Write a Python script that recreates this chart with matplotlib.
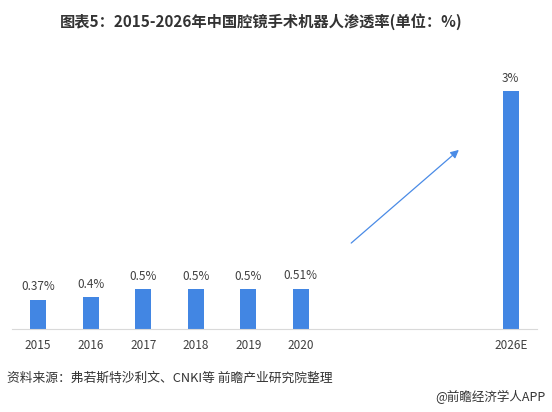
# -*- coding: utf-8 -*-
import matplotlib as mpl
mpl.use('Agg')
import matplotlib.pyplot as plt

plt.rcParams['font.family'] = ['Noto Sans CJK SC', 'DejaVu Sans']

# 数据
years = ['2015', '2016', '2017', '2018', '2019', '2020', '2026E']
xpos = [0, 1, 2, 3, 4, 5, 9]
rates = [0.37, 0.4, 0.5, 0.5, 0.5, 0.51, 3]
rate_labels = ['0.37%', '0.4%', '0.5%', '0.5%', '0.5%', '0.51%', '3%']

bar_color = '#4286E3'

fig = plt.figure(figsize=(5.52, 4.12), dpi=100)
ax = fig.add_axes([0.0217, 0.2015, 0.9513, 0.6355])

ax.bar(xpos, rates, width=0.31, color=bar_color)
for x, v, s in zip(xpos, rates, rate_labels):
    ax.text(x, v + 0.08, s, ha='center', va='bottom', fontsize=8.5, color='#404040')

# 趋势箭头
ax.annotate('', xy=(8.05, 2.28), xytext=(5.92, 1.06),
            arrowprops=dict(arrowstyle='-|>', color='#4A8BE6', lw=0.9,
                            mutation_scale=12))

ax.set_xlim(-0.5, 9.5)
ax.set_ylim(0, 3.3)
ax.set_xticks(xpos)
ax.set_xticklabels(years, fontsize=8.5, color='#404040')
ax.tick_params(axis='x', length=0, pad=7)
ax.set_yticks([])
for sp in ['top', 'left', 'right']:
    ax.spines[sp].set_visible(False)
ax.spines['bottom'].set_color('#d9d9d9')

fig.text(0.473, 0.947, '图表5：2015-2026年中国腔镜手术机器人渗透率(单位：%)',
         ha='center', va='center', fontsize=11, fontweight='bold', color='#333333')
fig.text(0.012, 0.083, '资料来源：弗若斯特沙利文、CNKI等 前瞻产业研究院整理',
         ha='left', va='center', fontsize=9.2, color='#333333')
fig.text(0.988, 0.036, '@前瞻经济学人APP',
         ha='right', va='center', fontsize=9, color='#333333')

fig.savefig('out.png', dpi=100)
